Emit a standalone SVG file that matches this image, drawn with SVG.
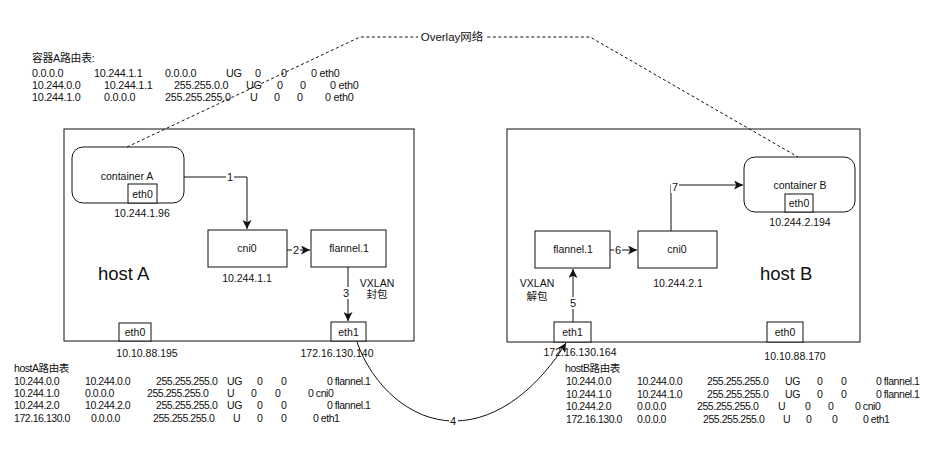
<svg xmlns="http://www.w3.org/2000/svg" width="934" height="452" viewBox="0 0 934 452">
<style>
text{font-family:"Liberation Sans","Noto Sans CJK SC",Arial,sans-serif;fill:#111;}
.t{font-size:10.5px;letter-spacing:-0.45px;}
.tt{font-size:10.8px;letter-spacing:-0.25px;}
.n{font-size:10.5px;text-anchor:middle;}
.lbl{font-size:11px;text-anchor:middle;}
.big{font-size:18.5px;}
.box{fill:#fff;stroke:#111;stroke-width:1;}
.ln{fill:none;stroke:#111;stroke-width:1;}
.bg{fill:#fff;}
</style>
<defs>
<marker id="ah" viewBox="0 0 10 10" refX="10" refY="5" markerWidth="9" markerHeight="9" markerUnits="userSpaceOnUse" orient="auto">
<path d="M0,0 L10,5 L0,10 L2.5,5 z" fill="#111"/>
</marker>
</defs>
<rect width="934" height="452" fill="#fff"/>

<g id="hostA">
<rect class="box" x="64" y="129" width="350" height="212"/>
<text class="big" x="98" y="280">host A</text>
</g>
<g id="hostB">
<rect class="box" x="507" y="129" width="353" height="213"/>
<text class="big" x="760" y="280">host B</text>
</g>

<g id="containerA">
<rect class="box" x="72" y="147" width="112" height="56" rx="11"/>
<text class="n" x="127" y="180">container A</text>
<rect class="box" x="128" y="184" width="29" height="19"/>
<text class="n" x="142.5" y="197.5">eth0</text>
<text class="n" x="142" y="217">10.244.1.96</text>
</g>
<g id="cni0A">
<rect class="box" x="208" y="230" width="79" height="37"/>
<text class="n" x="247" y="252">cni0</text>
<text class="n" x="247" y="282">10.244.1.1</text>
</g>
<g id="flannelA">
<rect class="box" x="311" y="230" width="75" height="37"/>
<text class="n" x="349" y="252">flannel.1</text>
<text class="n" x="377" y="287">VXLAN</text>
<text class="n" x="377" y="298">封包</text>
</g>
<g id="eth1A">
<rect class="box" x="331" y="322" width="35" height="19"/>
<text class="n" x="348.5" y="335.5">eth1</text>
<text class="n" x="337" y="357">172.16.130.140</text>
</g>
<g id="eth0A">
<rect class="box" x="119" y="323" width="32" height="18"/>
<text class="n" x="135" y="336">eth0</text>
<text class="n" x="147" y="357">10.10.88.195</text>
</g>

<g id="containerB">
<rect class="box" x="744" y="157" width="111" height="55" rx="11"/>
<text class="n" x="800" y="189">container B</text>
<rect class="box" x="785" y="194" width="28" height="18"/>
<text class="n" x="799" y="207">eth0</text>
<text class="n" x="800" y="226">10.244.2.194</text>
</g>
<g id="cni0B">
<rect class="box" x="638" y="231" width="79" height="37"/>
<text class="n" x="677" y="253">cni0</text>
<text class="n" x="678" y="287">10.244.2.1</text>
</g>
<g id="flannelB">
<rect class="box" x="535" y="231" width="75" height="37"/>
<text class="n" x="573" y="253">flannel.1</text>
<text class="n" x="537" y="287">VXLAN</text>
<text class="n" x="537" y="300">解包</text>
</g>
<g id="eth1B">
<rect class="box" x="554" y="322" width="37" height="20"/>
<text class="n" x="572.5" y="336">eth1</text>
<text class="n" x="580" y="356">172.16.130.164</text>
</g>
<g id="eth0B">
<rect class="box" x="767" y="322" width="36" height="20"/>
<text class="n" x="785" y="336">eth0</text>
<text class="n" x="795" y="360">10.10.88.170</text>
</g>

<g id="connectors">
<path class="ln" d="M184,177 L247,177 L247,229" marker-end="url(#ah)"/>
<rect class="bg" x="226" y="170" width="8" height="13"/>
<text class="lbl" x="230" y="181">1</text>
<path class="ln" d="M287,250 L310,250" marker-end="url(#ah)"/>
<rect class="bg" x="292" y="244" width="8" height="12"/>
<text class="lbl" x="296" y="254">2</text>
<path class="ln" d="M348,267 L348,321" marker-end="url(#ah)"/>
<rect class="bg" x="342" y="287" width="8" height="12"/>
<text class="lbl" x="346" y="297">3</text>
<path class="ln" d="M357,342 C372,385 410,421 454,421 C500,421 540,385 566,343" marker-end="url(#ah)"/>
<rect class="bg" x="449" y="415" width="9" height="12"/>
<text class="lbl" x="453" y="425">4</text>
<path class="ln" d="M573,322 L573,269" marker-end="url(#ah)"/>
<rect class="bg" x="569" y="297" width="8" height="12"/>
<text class="lbl" x="573" y="307">5</text>
<path class="ln" d="M610,250 L637,250" marker-end="url(#ah)"/>
<rect class="bg" x="614" y="244" width="8" height="12"/>
<text class="lbl" x="618" y="254">6</text>
<path class="ln" d="M671,231 L671,185 L743,185" marker-end="url(#ah)"/>
<rect class="bg" x="671" y="181" width="8" height="12"/>
<text class="lbl" x="675" y="191">7</text>
<path class="ln" d="M127,147 L360,37 L590,37 L798,157" stroke-dasharray="3,2.5"/>
<rect class="bg" x="418" y="30" width="68" height="14"/>
<text class="lbl" x="452" y="41" style="font-size:11.5px">Overlay网络</text>
</g>

<g id="tableContainerA" class="tt">
<text x="32" y="62">容器A路由表:</text>
<text y="77"><tspan x="32">0.0.0.0</tspan><tspan x="94">10.244.1.1</tspan><tspan x="165">0.0.0.0</tspan><tspan x="226">UG</tspan><tspan x="255">0</tspan><tspan x="281">0</tspan><tspan x="311">0 eth0</tspan></text>
<text y="89"><tspan x="32">10.244.0.0</tspan><tspan x="104">10.244.1.1</tspan><tspan x="174">255.255.0.0</tspan><tspan x="246">UG</tspan><tspan x="277">0</tspan><tspan x="300">0</tspan><tspan x="330">0 eth0</tspan></text>
<text y="101"><tspan x="32">10.244.1.0</tspan><tspan x="104">0.0.0.0</tspan><tspan x="165">255.255.255.0</tspan><tspan x="250">U</tspan><tspan x="274">0</tspan><tspan x="297">0</tspan><tspan x="325">0 eth0</tspan></text>
</g>

<g id="tableHostA" class="t">
<text x="14" y="372">hostA路由表</text>
<text y="385"><tspan x="14">10.244.0.0</tspan><tspan x="85">10.244.0.0</tspan><tspan x="156">255.255.255.0</tspan><tspan x="227">UG</tspan><tspan x="257">0</tspan><tspan x="281">0</tspan><tspan x="327">0 flannel.1</tspan></text>
<text y="397"><tspan x="14">10.244.1.0</tspan><tspan x="85">0.0.0.0</tspan><tspan x="147">255.255.255.0</tspan><tspan x="227">U</tspan><tspan x="251">0</tspan><tspan x="275">0</tspan><tspan x="308">0 cni0</tspan></text>
<text y="409"><tspan x="14">10.244.2.0</tspan><tspan x="85">10.244.2.0</tspan><tspan x="156">255.255.255.0</tspan><tspan x="227">UG</tspan><tspan x="257">0</tspan><tspan x="281">0</tspan><tspan x="327">0 flannel.1</tspan></text>
<text y="422"><tspan x="14">172.16.130.0</tspan><tspan x="91">0.0.0.0</tspan><tspan x="153">255.255.255.0</tspan><tspan x="233">U</tspan><tspan x="257">0</tspan><tspan x="281">0</tspan><tspan x="313">0 eth1</tspan></text>
</g>

<g id="tableHostB" class="t">
<text x="565" y="372">hostB路由表</text>
<text y="385"><tspan x="566">10.244.0.0</tspan><tspan x="637">10.244.0.0</tspan><tspan x="707">255.255.255.0</tspan><tspan x="785">UG</tspan><tspan x="817">0</tspan><tspan x="841">0</tspan><tspan x="876">0 flannel.1</tspan></text>
<text y="398"><tspan x="566">10.244.1.0</tspan><tspan x="637">10.244.1.0</tspan><tspan x="707">255.255.255.0</tspan><tspan x="785">UG</tspan><tspan x="817">0</tspan><tspan x="841">0</tspan><tspan x="876">0 flannel.1</tspan></text>
<text y="410"><tspan x="566">10.244.2.0</tspan><tspan x="637">0.0.0.0</tspan><tspan x="697">255.255.255.0</tspan><tspan x="778">U</tspan><tspan x="805">0</tspan><tspan x="828">0</tspan><tspan x="855">0 cni0</tspan></text>
<text y="423"><tspan x="566">172.16.130.0</tspan><tspan x="637">0.0.0.0</tspan><tspan x="703">255.255.255.0</tspan><tspan x="783">U</tspan><tspan x="806">0</tspan><tspan x="832">0</tspan><tspan x="863">0 eth1</tspan></text>
</g>
</svg>
